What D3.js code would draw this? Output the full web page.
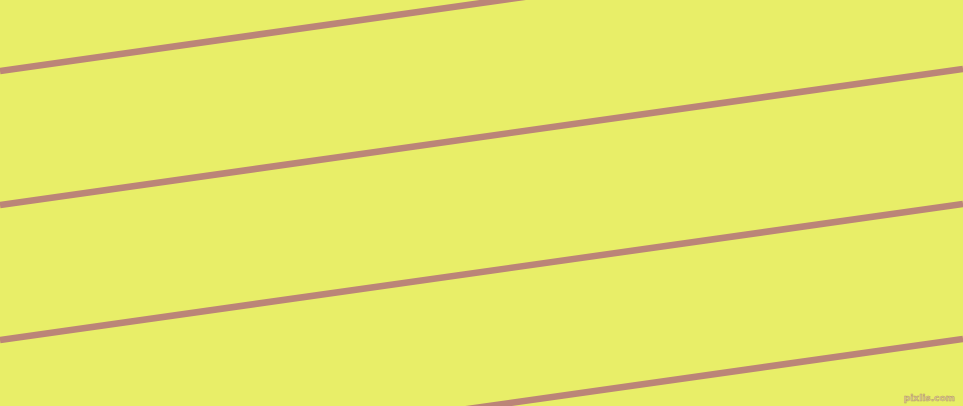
<!DOCTYPE html>
<html><head><meta charset="utf-8">
<script src="https://cdn.jsdelivr.net/npm/d3@7"></script>
<style>html,body{margin:0;padding:0;overflow:hidden;background:#e8ee68}</style>
</head><body>
<script>
const lineIds = ["l1","l2","l3","l4"];
const leftY = [71, 205, 340, 475];
const rightY = [-65, 69, 204, 339];
const watermark = ["pixlis.com"];

const W = 963, H = 406;
const svg = d3.select("body").append("svg").attr("width", W).attr("height", H);
const x = d3.scaleLinear().domain([0, 1]).range([0, W]);
const y = d3.scaleLinear().domain([0, H]).range([0, H]);
svg.append("rect").attr("width", W).attr("height", H).attr("fill", "#e8ee68");
const data = lineIds.map((id, i) => ({id, pts: [[0, leftY[i]], [1, rightY[i]]]}));
const line = d3.line().x(d => x(d[0])).y(d => y(d[1]));
svg.selectAll("path.ln").data(data).join("path").attr("class", "ln")
  .attr("d", d => line(d.pts)).attr("fill", "none")
  .attr("stroke", "#bb8578").attr("stroke-width", 6.5);
svg.selectAll("text.wm").data(watermark).join("text").attr("class","wm")
  .attr("x", 955).attr("y", 401).attr("text-anchor", "end")
  .attr("font-family", "DejaVu Sans").attr("font-size", 9).attr("font-weight", "bold")
  .attr("fill", "#dcd08a").attr("stroke", "#b89870").attr("stroke-width", 0.5)
  .text(d => d);
</script>
</body></html>
